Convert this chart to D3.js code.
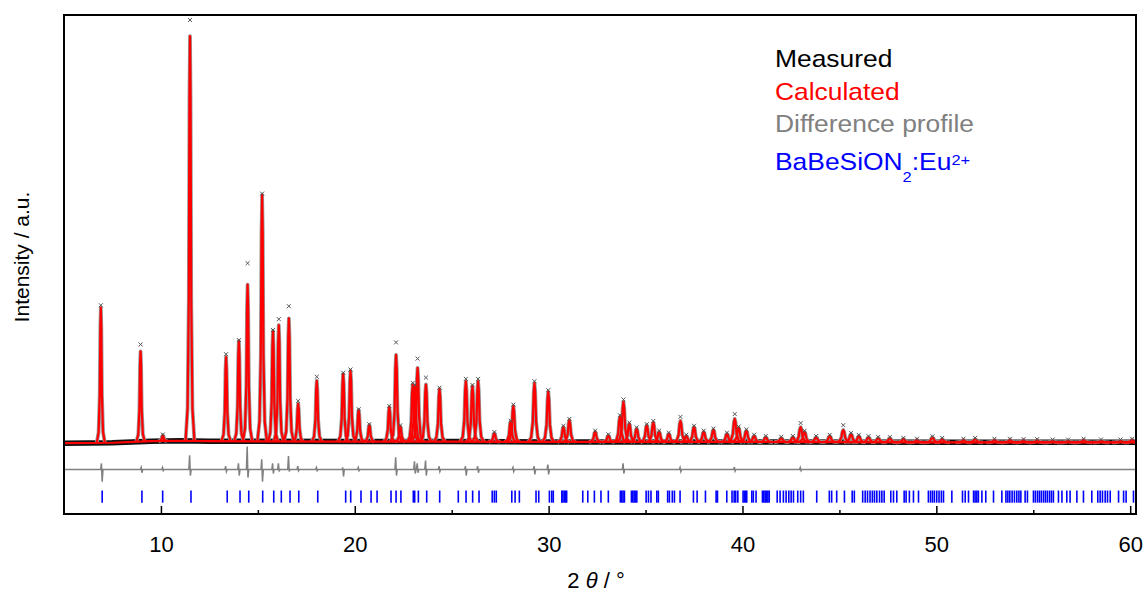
<!DOCTYPE html>
<html>
<head>
<meta charset="utf-8">
<script src="https://cdn.jsdelivr.net/npm/d3@7"></script>
<style>
body { margin: 0; background: #fff; }
text { font-family: Arial, "Liberation Sans", sans-serif; }
</style>
</head>
<body>
<div id="chart-container"></div>
<script>
// powder XRD refinement plot

// peak positions (2 theta) with calculated and measured peak heights (a.u.)
const peakPos = [6.9, 8.95, 10.1, 11.5, 13.36, 14.02, 14.47, 15.22, 15.78, 16.08, 16.6, 17.08, 18.04, 19.4, 19.78, 20.2, 20.75, 21.78, 22.13, 22.35,
    22.99, 23.1, 23.24, 23.67, 24.37, 25.73, 26.07, 26.36, 27.2, 28.04, 28.18, 29.27, 29.98, 30.76, 31.07, 32.4, 33.08, 33.68, 33.86, 34.16,
    34.54, 35.06, 35.4, 35.7, 36.2, 36.8, 37.1, 37.5, 38.0, 38.5, 39.2, 39.6, 39.8, 40.2, 40.6, 41.2, 42.0, 42.6, 43.0, 43.2,
    43.8, 44.5, 45.2, 45.6, 46.0, 46.5, 47.0, 47.6, 48.3, 49.0, 49.8, 50.3, 51.4, 52.0, 53.0, 53.8, 54.5, 55.2, 56.0, 56.8,
    57.6, 58.5, 59.5, 60.1];
const calcHeight = [334, 223, 14, 1000, 208, 248, 387, 609, 273, 287, 304, 93, 150, 167, 175, 78, 41, 85, 214, 37,
    141, 137, 182, 141, 130, 149, 137, 149, 21, 50, 89, 145, 124, 37, 54, 25, 16, 62, 99, 45,
    33, 41, 48, 25, 20, 52, 15, 37, 25, 30, 20, 57, 35, 28, 15, 12, 10, 12, 37, 25,
    12, 15, 30, 20, 15, 12, 10, 10, 8, 6, 12, 8, 6, 8, 6, 6, 5, 5, 4, 4,
    6, 4, 4, 6];
const measHeight = [340, 240, 16, 1040, 215, 250, 440, 612, 275, 302, 334, 100, 160, 170, 178, 80, 43, 88, 245, 40,
    145, 140, 205, 158, 133, 155, 140, 155, 24, 52, 92, 150, 128, 40, 57, 28, 19, 66, 105, 48,
    36, 44, 52, 28, 23, 62, 18, 40, 28, 33, 23, 69, 38, 31, 18, 15, 13, 15, 47, 28,
    15, 18, 42, 23, 18, 15, 13, 13, 11, 9, 15, 11, 9, 11, 9, 9, 8, 8, 7, 7,
    9, 7, 7, 9];

// background
const bgPos = [5, 7.5, 9.5, 11, 12.5, 20, 25, 30, 40, 50, 60.3];
const bgVal = [0, 1, 5, 6, 5, 4, 4, 3, 3, 2, 2];

// difference profile features (up / down swing around its offset line)
const diffPos = [6.95, 9.0, 10.1, 11.5, 13.36, 14.02, 14.47, 15.22, 15.78, 16.08, 16.6, 17.08, 18.04, 19.4, 20.2, 22.13, 23.1, 23.24, 23.67, 24.37,
    25.73, 26.36, 28.18, 29.27, 29.98, 33.86, 36.8, 39.6, 43.0];
const diffUp = [15, 5, 5, 35, 8, 15, 57, 25, 15, 15, 33, 8, 5, 5, 5, 30, 20, 15, 22, 8,
    8, 8, 5, 8, 12, 15, 5, 6, 5];
const diffDown = [-30, -8, -3, -15, -5, -15, -20, -30, -10, -5, -5, -3, -3, -17, -3, -15, -10, -8, -15, -5,
    -15, -8, -5, -12, -12, -10, -5, -4, -3];

// Bragg reflection positions
const reflPos = [6.97, 9.02, 10.09, 11.55, 13.42, 14.08, 14.53, 15.25, 15.82, 16.21, 16.66, 17.11, 18.09, 19.53, 19.79, 20.32, 20.84, 21.15, 21.87, 22.13,
    22.38, 23.02, 23.09, 23.28, 23.71, 24.38, 25.34, 25.74, 26.08, 26.41, 27.09, 27.2, 27.3, 28.1, 28.27, 28.49, 29.35, 29.49, 30.04, 30.16,
    30.24, 30.68, 30.74, 30.81, 30.88, 30.93, 31.76, 32.02, 32.36, 32.7, 33.08, 33.7, 33.77, 33.84, 33.91, 34.27, 34.34, 34.41, 34.47, 34.55,
    35.03, 35.15, 35.28, 35.58, 35.66, 36.14, 36.23, 36.38, 36.49, 36.78, 37.47, 37.66, 38.09, 38.64, 38.71, 39.19, 39.46, 39.57, 39.65, 39.76,
    40.03, 40.1, 40.17, 40.22, 40.48, 40.56, 40.7, 41.03, 41.1, 41.17, 41.24, 41.31, 41.38, 41.79, 41.94, 42.11, 42.25, 42.39, 42.51, 42.63,
    42.85, 43.0, 43.14, 43.83, 44.48, 44.6, 44.86, 45.26, 45.66, 45.77, 46.2, 46.33, 46.45, 46.58, 46.7, 46.81, 46.93, 47.07, 47.19, 47.31,
    47.65, 47.79, 47.96, 48.34, 48.44, 48.61, 48.82, 49.08, 49.59, 49.7, 49.8, 49.9, 50.02, 50.14, 50.26, 50.37, 50.8, 51.35, 51.49, 51.66,
    51.92, 52.0, 52.09, 52.17, 52.35, 52.55, 52.95, 53.38, 53.59, 53.69, 53.79, 53.91, 54.03, 54.15, 54.26, 54.36, 54.58, 54.7, 55.01, 55.11,
    55.22, 55.32, 55.42, 55.53, 55.63, 55.73, 55.84, 55.94, 56.04, 56.3, 56.48, 56.73, 56.9, 57.25, 57.59, 58.02, 58.33, 58.45, 58.57, 58.71,
    58.83, 58.97, 59.4, 59.66, 59.79, 60.17];

const xMajor = [10, 20, 30, 40, 50, 60];
const xMinor = [15, 25, 35, 45, 55];

// Set up the SVG container
const svgWidth = 1147;
const svgHeight = 592;
const margin = { top: 15, right: 11, bottom: 78, left: 64 };
const width = svgWidth - margin.left - margin.right;
const height = svgHeight - margin.top - margin.bottom;

const diffOffset = -65;      // where the difference curve sits
const tickTop = -117, tickBottom = -147;  // reflection marker band

const root = d3.select("#chart-container")
    .append("svg")
    .attr("width", svgWidth)
    .attr("height", svgHeight);

const svg = root.append("g")
    .attr("transform", `translate(${margin.left},${margin.top})`);

const x = d3.scaleLinear().domain([5, 60.3]).range([0, width]);
const y = d3.scaleLinear().domain([-175, 1058]).range([height, 0]);
const bg = d3.scaleLinear().domain(bgPos).range(bgVal);

svg.append("clipPath").attr("id", "plot-clip")
    .append("rect").attr("width", width).attr("height", height);

const plot = svg.append("g").attr("clip-path", "url(#plot-clip)");

// peak shape: offsets in degrees, fraction of height (broadens a bit with angle)
const shapeDx = [-0.2, -0.11, -0.055, -0.025, 0, 0.025, 0.055, 0.11, 0.2];
const shapeF = [0, 0.08, 0.35, 0.85, 1, 0.85, 0.35, 0.08, 0];

const line = d3.line().x(d => x(d[0])).y(d => y(d[1]));

function peakPoints(p, h) {
    const w = 1 + (p - 5) * 0.022;
    return shapeDx.map((dx, i) => [p + dx * w, bg(p + dx * w) + h * shapeF[i]]);
}

const bgLine = bgPos.map((p, i) => [p, bgVal[i]]);

// measured: dark noisy band along the baseline
plot.append("path")
    .attr("d", line(bgLine))
    .attr("fill", "none")
    .attr("stroke", "#111")
    .attr("stroke-width", 5.5);

// grey halo of measured points along the peak flanks
plot.selectAll(".meas")
    .data(peakPos)
    .enter()
    .append("path")
    .attr("class", "meas")
    .attr("d", (p, i) => line(peakPoints(p, calcHeight[i])))
    .attr("fill", "none")
    .attr("stroke", "#9a9a9a")
    .attr("stroke-width", 3.8)
    .attr("stroke-linejoin", "round");

// calculated
plot.append("path")
    .attr("d", line(bgLine))
    .attr("fill", "none")
    .attr("stroke", "#ff0000")
    .attr("stroke-width", 2.2);

plot.selectAll(".calc")
    .data(peakPos)
    .enter()
    .append("path")
    .attr("class", "calc")
    .attr("d", (p, i) => line(peakPoints(p, calcHeight[i])))
    .attr("fill", "none")
    .attr("stroke", "#ff0000")
    .attr("stroke-width", 2.2)
    .attr("stroke-linejoin", "round");

// measured point markers at the peak tops
plot.selectAll(".cross")
    .data(peakPos)
    .enter()
    .append("path")
    .attr("class", "cross")
    .attr("transform", (p, i) => `translate(${x(p)},${y(bg(p) + measHeight[i])})`)
    .attr("d", d3.symbol(d3.symbolTimes, 12))
    .attr("fill", "none")
    .attr("stroke", "#555")
    .attr("stroke-width", 1);

// difference profile
const diffPts = [[5, diffOffset]];
diffPos.forEach((p, i) => {
    diffPts.push([p - 0.06, diffOffset]);
    diffPts.push([p - 0.02, diffOffset + diffUp[i]]);
    diffPts.push([p + 0.02, diffOffset + diffDown[i]]);
    diffPts.push([p + 0.06, diffOffset]);
});
diffPts.push([60.3, diffOffset]);

plot.append("path")
    .attr("d", line(diffPts))
    .attr("fill", "none")
    .attr("stroke", "#808080")
    .attr("stroke-width", 1.5);

// reflection markers
plot.selectAll(".refl")
    .data(reflPos)
    .enter()
    .append("line")
    .attr("class", "refl")
    .attr("x1", d => x(d)).attr("x2", d => x(d))
    .attr("y1", y(tickTop)).attr("y2", y(tickBottom))
    .attr("stroke", "#0000ff")
    .attr("stroke-width", 1.6);

// x axis with inward ticks
const xAxis = svg.append("g")
    .attr("class", "axis axis-x")
    .attr("transform", `translate(0, ${height})`)
    .call(d3.axisBottom(x).tickValues(xMajor).tickSize(-8).tickPadding(22).tickFormat(d3.format("d")));
xAxis.select(".domain").remove();
xAxis.selectAll(".tick line").attr("stroke", "#000").attr("stroke-width", 1.5);
xAxis.selectAll("text").attr("font-size", 22).attr("fill", "#000")
    .attr("font-family", "Arial, 'Liberation Sans', sans-serif");

svg.append("g")
    .attr("transform", `translate(0, ${height})`)
    .call(d3.axisBottom(x).tickValues(xMinor).tickSize(-4).tickFormat(""))
    .call(g => g.select(".domain").remove())
    .selectAll(".tick line").attr("stroke", "#000").attr("stroke-width", 1.5);

// frame
svg.append("rect")
    .attr("width", width)
    .attr("height", height)
    .attr("fill", "none")
    .attr("stroke", "#000")
    .attr("stroke-width", 2);

// axis titles
const xTitle = root.append("text")
    .attr("x", 596)
    .attr("y", 588)
    .attr("text-anchor", "middle")
    .attr("font-size", 22);
xTitle.append("tspan").text("2 ");
xTitle.append("tspan").attr("font-style", "italic").text("θ");
xTitle.append("tspan").text(" / °");

root.append("text")
    .attr("transform", "translate(29, 257) rotate(-90)")
    .attr("text-anchor", "middle")
    .attr("font-size", 21)
    .text("Intensity / a.u.");

// legend
const legend = root.append("g").attr("transform", "translate(775, 0) scale(1.1, 1)");
legend.append("text").attr("y", 67.5).attr("font-size", 24).attr("fill", "#000").text("Measured");
legend.append("text").attr("y", 100.5).attr("font-size", 24).attr("fill", "#ff0000").text("Calculated");
legend.append("text").attr("y", 132.5).attr("font-size", 24).attr("fill", "#808080").text("Difference profile");
const phase = legend.append("text").attr("y", 170).attr("font-size", 24).attr("fill", "#0000ff");
phase.append("tspan").text("BaBeSiON");
phase.append("tspan").attr("font-size", 15).attr("dy", 12).text("2");
phase.append("tspan").attr("dy", -12).text(":Eu");
phase.append("tspan").attr("font-size", 15).attr("dy", -5).text("2+");
</script>
</body>
</html>
